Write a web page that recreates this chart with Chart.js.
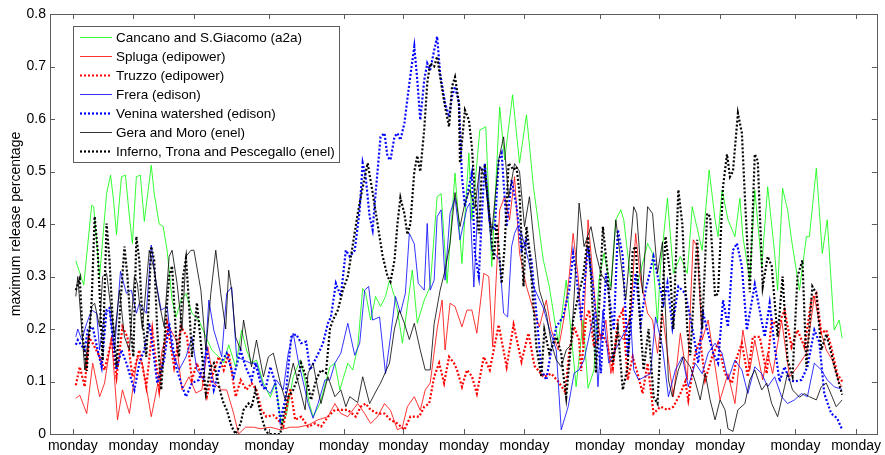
<!DOCTYPE html>
<html>
<head>
<meta charset="utf-8">
<script src="https://cdn.jsdelivr.net/npm/chart.js@4.4.0/dist/chart.umd.min.js"></script>
<style>
  html, body { margin: 0; padding: 0; background: #fff; }
  #wrap { width: 885px; height: 455px; }
</style>
</head>
<body>
<div id="wrap"><canvas id="releaseChart" width="885" height="455"></canvas></div>
<script>
// Maximum release percentage per watershed.
// x = sample index along the time axis, y = release fraction.

const mondayTicks = [-2, 59, 120, 196, 271, 331, 392, 453, 529, 589, 650, 726, 787];
const yTicks = [0, 0.1, 0.2, 0.3, 0.4, 0.5, 0.6, 0.7, 0.8];

const seriesLabels = [
    'Cancano and S.Giacomo (a2a)',
    'Spluga (edipower)',
    'Truzzo (edipower)',
    'Frera (edison)',
    'Venina watershed (edison)',
    'Gera and Moro (enel)',
    'Inferno, Trona and Pescegallo (enel)'
];

const cancano = [[1,.33],[9,.284],[17,.436],[19,.433],[25,.30],[32,.458],[36,.493],[39,.446],[42,.38],[47,.49],[51,.493],[55,.414],[58,.363],[62,.49],[66,.493],[70,.405],[77,.512],[80,.458],[85,.40],[89,.395],[93,.35],[98,.255],[102,.223],[107,.255],[112,.268],[118,.23],[125,.217],[132,.185],[138,.16],[145,.147],[150,.135],[155,.17],[162,.128],[168,.198],[173,.16],[178,.135],[183,.141],[190,.097],[197,.07],[202,.097],[208,.02],[213,.035],[220,.109],[227,.141],[232,.1],[236,.06],[240,.033],[247,.058],[253,.1],[257,.128],[262,.135],[267,.084],[275,.135],[280,.122],[285,.166],[290,.277],[293,.268],[298,.217],[303,.262],[308,.243],[313,.262],[317,.293],[322,.262],[325,.236],[330,.173],[335,.243],[340,.312],[345,.211],[352,.255],[358,.281],[365,.452],[369,.458],[375,.287],[383,.497],[390,.325],[397,.535],[400,.408],[408,.579],[414,.585],[420,.319],[428,.623],[433,.522],[441,.646],[448,.516],[455,.608],[462,.471],[472,.331],[478,.281],[487,.173],[495,.293],[505,.09],[512,.217],[517,.087],[523,.122],[528,.293],[533,.344],[540,.281],[545,.408],[550,.427],[553,.408],[560,.293],[567,.287],[577,.363],[582,.344],[587,.211],[590,.319],[597,.449],[603,.306],[610,.338],[617,.306],[622,.433],[625,.408],[632,.35],[639,.503],[645,.408],[648,.376],[652,.465],[658,.408],[665,.376],[670,.449],[673,.376],[680,.293],[685,.465],[692,.319],[698,.471],[705,.344],[708,.274],[713,.468],[718,.427],[722,.37],[730,.274],[737,.376],[740,.376],[747,.506],[753,.344],[758,.408],[765,.198],[770,.217],[773,.183]];

const spluga = [[1,.068],[5,.074],[12,.039],[18,.135],[25,.071],[30,.097],[37,.185],[43,.027],[48,.084],[55,.039],[63,.147],[68,.135],[77,.033],[83,.09],[88,.16],[95,.204],[102,.179],[108,.084],[115,.109],[122,.078],[128,.084],[134,.166],[140,.097],[148,.084],[153,.084],[160,.039],[165,0],[172,.013],[180,.013],[187,.01],[197,.013],[207,.008],[217,.013],[225,.013],[235,.017],[245,.027],[255,.033],[262,.058],[268,.039],[275,.033],[285,.058],[292,.039],[298,.02],[305,.033],[312,.058],[318,.045],[325,.008],[330,.013],[335,.052],[342,.071],[348,.045],[353,.084],[358,.097],[365,.2],[370,.255],[373,.16],[378,.249],[383,.243],[390,.204],[395,.236],[400,.236],[405,.192],[412,.306],[417,.3],[421,.166],[428,.427],[433,.452],[438,.408],[443,.49],[448,.344],[455,.281],[462,.236],[468,.204],[475,.255],[480,.198],[487,.16],[493,.223],[498,.3],[502,.382],[507,.3],[512,.17],[517,.408],[520,.344],[525,.23],[530,.179],[535,.217],[540,.115],[547,.192],[553,.179],[560,.23],[565,.382],[570,.293],[577,.23],[582,.217],[587,.154],[592,.23],[597,.154],[603,.071],[610,.192],[617,.103],[623,.37],[627,.357],[632,.179],[638,.217],[643,.154],[650,.065],[658,.115],[665,.058],[673,.198],[680,.122],[685,.179],[693,.103],[698,.154],[703,.115],[712,.217],[720,.109],[728,.128],[737,.154],[745,.262],[752,.192],[757,.16],[763,.141],[770,.097],[773,.09]];

const truzzo = [[1,.093],[5,.128],[10,.09],[14,.185],[18,.173],[25,.147],[30,.122],[37,.179],[42,.109],[48,.204],[53,.185],[58,.109],[65,.16],[72,.09],[78,.198],[85,.084],[93,.211],[100,.128],[107,.204],[113,.185],[118,.103],[123,.135],[128,.109],[133,.071],[138,.109],[145,.147],[150,.122],[155,.154],[162,.071],[167,.103],[173,.084],[178,.097],[183,.084],[188,.046],[193,.033],[200,.036],[205,.027],[210,.014],[217,.087],[222,.027],[228,.033],[235,.014],[242,.02],[248,.014],[255,.033],[262,.046],[268,.046],[275,.046],[283,.033],[288,.052],[293,.058],[298,.046],[305,.039],[312,.039],[318,.027],[325,.02],[332,.008],[338,.033],[347,.033],[352,.052],[357,.058],[362,.109],[367,.135],[372,.097],[377,.147],[382,.135],[385,.122],[390,.09],[395,.122],[400,.11],[405,.077],[412,.147],[418,.122],[427,.208],[435,.128],[442,.208],[450,.138],[457,.192],[463,.13],[472,.109],[480,.115],[487,.1],[494,.08],[498,.154],[503,.204],[508,.179],[510,.12],[515,.22],[518,.236],[523,.166],[530,.192],[535,.179],[542,.125],[547,.217],[552,.236],[557,.103],[562,.147],[567,.115],[572,.077],[577,.135],[583,.039],[590,.052],[597,.046],[603,.052],[610,.077],[615,.1],[618,.065],[625,.154],[630,.179],[635,.103],[642,.147],[648,.173],[655,.115],[662,.097],[667,.147],[672,.173],[678,.109],[683,.185],[690,.185],[697,.115],[702,.217],[708,.204],[715,.236],[722,.166],[728,.198],[735,.166],[742,.255],[747,.268],[752,.192],[757,.198],[762,.166],[768,.115],[773,.1]];

const frera = [[1,.185],[3,.2],[7,.179],[12,.211],[17,.236],[22,.23],[25,.16],[30,.23],[35,.236],[40,.16],[46,.31],[52,.268],[57,.274],[62,.23],[65,.249],[72,.23],[77,.36],[82,.287],[87,.236],[93,.243],[98,.16],[105,.122],[112,.147],[118,.185],[123,.122],[130,.103],[135,.255],[140,.198],[148,.147],[153,.268],[158,.28],[163,.147],[170,.141],[177,.135],[183,.135],[190,.09],[197,.077],[203,.103],[210,.084],[215,.154],[220,.192],[225,.14],[230,.1],[235,.058],[240,.03],[245,.058],[252,.103],[257,.103],[262,.135],[268,.154],[275,.211],[282,.15],[287,.173],[292,.274],[296,.281],[300,.217],[307,.223],[313,.115],[318,.185],[323,.262],[328,.23],[333,.268],[337,.382],[342,.362],[346,.287],[352,.274],[355,.401],[358,.274],[362,.293],[365,.414],[369,.427],[373,.293],[378,.42],[383,.45],[388,.37],[395,.43],[398,.44],[402,.28],[408,.51],[413,.5],[420,.35],[428,.331],[432,.23],[436,.223],[440,.357],[443,.382],[446,.395],[450,.382],[457,.331],[462,.281],[472,.24],[478,.2],[485,.16],[490,.008],[497,.052],[503,.116],[508,.122],[513,.141],[518,.185],[523,.23],[527,.09],[532,.236],[538,.135],[548,.173],[560,.217],[563,.122],[568,.103],[580,.115],[585,.223],[592,.166],[598,.071],[605,.122],[612,.147],[618,.09],[625,.135],[632,.115],[638,.154],[645,.173],[652,.154],[658,.103],[665,.141],[672,.122],[678,.077],[685,.128],[692,.115],[698,.09],[705,.109],[712,.071],[718,.058],[725,.065],[732,.077],[738,.071],[745,.135],[752,.122],[758,.103],[765,.09],[773,.085]];

const venina = [[1,.17],[3,.179],[10,.16],[13,.198],[18,.204],[23,.16],[27,.128],[32,.236],[35,.24],[38,.185],[42,.122],[47,.16],[52,.135],[60,.084],[65,.135],[70,.16],[75,.211],[78,.173],[83,.097],[90,.141],[95,.211],[102,.128],[107,.097],[112,.071],[118,.097],[125,.103],[133,.16],[140,.084],[147,.135],[153,.154],[160,.109],[167,.16],[172,.128],[178,.103],[182,.135],[187,.097],[192,.084],[197,.128],[202,.097],[207,.027],[212,.065],[218,.185],[223,.19],[228,.173],[233,.176],[237,.122],[242,.141],[247,.16],[250,.173],[255,.211],[258,.223],[263,.287],[268,.262],[273,.35],[277,.338],[282,.35],[287,.427],[290,.516],[293,.49],[297,.414],[300,.389],[303,.458],[308,.566],[312,.573],[315,.528],[318,.522],[322,.566],[325,.573],[328,.56],[332,.592],[337,.668],[342,.738],[345,.674],[348,.598],[352,.674],[355,.706],[358,.693],[362,.731],[365,.757],[368,.687],[373,.63],[377,.604],[380,.643],[383,.662],[387,.63],[390,.49],[393,.433],[397,.471],[400,.497],[403,.344],[407,.3],[410,.414],[413,.516],[418,.401],[423,.389],[427,.522],[430,.535],[435,.395],[440,.484],[445,.433],[450,.35],[455,.37],[460,.331],[465,.23],[470,.122],[475,.103],[480,.16],[485,.204],[492,.224],[498,.274],[502,.344],[505,.306],[510,.217],[517,.357],[522,.281],[527,.179],[530,.116],[535,.306],[543,.198],[547,.389],[552,.338],[557,.147],[565,.306],[570,.211],[575,.274],[583,.338],[588,.293],[593,.249],[597,.287],[602,.204],[608,.281],[615,.268],[623,.192],[628,.135],[633,.23],[643,.154],[648,.135],[653,.255],[658,.204],[663,.35],[667,.363],[672,.319],[677,.198],[685,.285],[695,.185],[700,.249],[705,.166],[710,.1],[715,.128],[720,.103],[725,.1],[732,.103],[738,.128],[745,.198],[750,.175],[755,.077],[762,.039],[768,.03],[773,.008]];

const gera = [[1,.262],[3,.3],[10,.122],[17,.243],[20,.249],[25,.204],[28,.3],[32,.306],[40,.185],[45,.274],[50,.185],[55,.16],[60,.3],[63,.287],[68,.2],[75,.35],[80,.312],[85,.25],[90,.204],[95,.338],[98,.35],[103,.287],[108,.198],[112,.338],[117,.35],[120,.35],[127,.274],[132,.16],[137,.268],[142,.35],[147,.268],[152,.2],[155,.312],[158,.274],[162,.185],[167,.16],[170,.217],[178,.128],[183,.179],[190,.109],[195,.147],[200,.154],[207,.097],[212,.065],[220,.135],[227,.084],[232,.046],[235,.116],[240,.135],[245,.084],[248,.058],[255,.109],[262,.071],[268,.084],[273,.052],[277,.071],[285,.06],[290,.109],[297,.058],[303,.08],[308,.097],[317,.135],[322,.2],[327,.236],[332,.211],[337,.18],[342,.211],[348,.16],[353,.122],[358,.122],[362,.21],[368,.274],[373,.312],[378,.363],[383,.46],[388,.395],[393,.44],[398,.465],[403,.43],[408,.509],[413,.49],[420,.382],[427,.522],[432,.566],[437,.45],[443,.515],[448,.5],[453,.395],[458,.452],[463,.357],[468,.274],[475,.23],[480,.173],[485,.141],[490,.128],[495,.16],[500,.17],[503,.262],[508,.44],[513,.357],[520,.395],[525,.344],[530,.306],[540,.274],[545,.408],[550,.33],[555,.255],[563,.433],[566,.42],[572,.268],[577,.433],[582,.42],[587,.306],[592,.366],[598,.103],[602,.071],[608,.122],[613,.147],[620,.128],[625,.1],[630,.065],[635,.116],[640,.065],[645,.027],[650,.065],[655,.046],[658,.01],[663,.005],[668,.046],[675,.058],[680,.103],[685,.122],[692,.084],[697,.097],[702,.058],[708,.033],[715,.09],[718,.116],[723,.084],[730,.07],[735,.077],[740,.071],[747,.065],[752,.09],[757,.097],[762,.075],[767,.052],[773,.065]];

const inferno = [[1,.274],[5,.296],[8,.185],[12,.12],[17,.255],[20,.414],[23,.35],[25,.268],[28,.14],[32,.401],[35,.33],[38,.223],[42,.128],[46,.25],[50,.357],[53,.3],[57,.185],[59,.147],[62,.376],[65,.33],[68,.22],[72,.147],[77,.357],[80,.33],[83,.2],[87,.084],[91,.2],[95,.30],[98,.32],[102,.185],[105,.147],[109,.3],[112,.335],[115,.25],[118,.147],[123,.25],[127,.173],[132,.078],[137,.128],[140,.135],[147,.077],[150,.058],[153,.046],[158,.014],[162,0],[167,.02],[170,.046],[175,.058],[178,.05],[182,.084],[187,.04],[192,.008],[195,0],[207,0],[210,.033],[215,.071],[220,.084],[225,.109],[228,.135],[233,.109],[238,.065],[243,.103],[248,.122],[253,.116],[257,.2],[260,.217],[265,.236],[270,.274],[275,.3],[280,.36],[285,.42],[290,.47],[295,.516],[300,.46],[305,.4],[310,.34],[315,.3],[318,.29],[322,.33],[325,.4],[328,.45],[332,.42],[335,.38],[338,.4],[342,.5],[345,.53],[348,.5],[352,.58],[355,.668],[358,.706],[362,.7],[365,.719],[368,.68],[373,.623],[377,.585],[380,.662],[383,.68],[387,.63],[388,.516],[393,.617],[397,.598],[400,.547],[403,.458],[407,.382],[410,.503],[413,.509],[418,.408],[422,.331],[425,.4],[430,.287],[433,.357],[437,.516],[442,.503],[445,.509],[448,.458],[452,.281],[455,.395],[458,.35],[465,.166],[470,.109],[473,.198],[478,.154],[485,.185],[490,.154],[492,.116],[495,.07],[502,.217],[507,.262],[512,.3],[517,.376],[520,.3],[525,.116],[532,.395],[537,.3],[542,.135],[547,.2],[552,.084],[557,.128],[562,.35],[565,.357],[570,.2],[573,.122],[578,.2],[583,.071],[587,.058],[595,.376],[600,.3],[603,.2],[608,.465],[612,.4],[617,.198],[620,.15],[627,.37],[632,.2],[637,.42],[640,.414],[645,.262],[648,.268],[653,.471],[657,.533],[660,.49],[663,.5],[668,.611],[672,.573],[675,.452],[680,.27],[685,.533],[688,.52],[693,.281],[698,.338],[702,.32],[708,.185],[713,.3],[718,.141],[723,.11],[728,.3],[733,.331],[737,.128],[743,.281],[747,.268],[752,.16],[757,.19],[762,.154],[767,.116],[773,.075]];

const seriesData = [cancano, spluga, truzzo, frera, venina, gera, inferno];
const seriesColors = ['#00ff00', '#ff0000', '#ff0000', '#0000ff', '#0000ff', '#000000', '#000000'];
const seriesDotted = [false, false, true, false, true, false, true];

const FONT = '"Liberation Sans", Arial, sans-serif';
const AXIS_COLOR = '#5c5c5c';

// matlab-style frame: box all round, ticks pointing inwards
const axesFrame = {
    id: 'axesFrame',
    afterDatasetsDraw(chart) {
        const ctx = chart.ctx;
        const a = chart.chartArea;
        const xs = chart.scales.x, ys = chart.scales.y;
        const tick = 5;
        ctx.save();
        ctx.strokeStyle = AXIS_COLOR;
        ctx.lineWidth = 1;
        ctx.setLineDash([]);
        ctx.beginPath();
        mondayTicks.forEach(v => {
            const px = Math.round(xs.getPixelForValue(v)) + 0.5;
            ctx.moveTo(px, a.bottom); ctx.lineTo(px, a.bottom - tick);
            ctx.moveTo(px, a.top); ctx.lineTo(px, a.top + tick);
        });
        yTicks.forEach(v => {
            const py = Math.round(ys.getPixelForValue(v)) + 0.5;
            ctx.moveTo(a.left, py); ctx.lineTo(a.left + tick, py);
            ctx.moveTo(a.right, py); ctx.lineTo(a.right - tick, py);
        });
        ctx.stroke();
        ctx.strokeRect(Math.round(a.left) + 0.5, Math.round(a.top) + 0.5,
            Math.round(a.right - a.left), Math.round(a.bottom - a.top));
        ctx.restore();
    }
};

// legend drawn inside the plot, upper left corner
const insideLegend = {
    id: 'insideLegend',
    afterDraw(chart) {
        const ctx = chart.ctx;
        const a = chart.chartArea;
        const sets = chart.data.datasets;
        const x0 = Math.round(a.left) + 23, y0 = Math.round(a.top) + 12;
        const rowH = 19, w = 266, h = rowH * sets.length + 3;
        ctx.save();
        ctx.fillStyle = '#ffffff';
        ctx.fillRect(x0, y0, w, h);
        ctx.strokeStyle = AXIS_COLOR;
        ctx.lineWidth = 1;
        ctx.strokeRect(x0 + 0.5, y0 + 0.5, w, h);
        ctx.font = '13.5px ' + FONT;
        ctx.textBaseline = 'middle';
        sets.forEach((ds, i) => {
            const y = y0 + 11.5 + i * rowH;
            ctx.beginPath();
            ctx.setLineDash(ds.borderDash || []);
            ctx.lineWidth = ds.borderWidth;
            ctx.strokeStyle = ds.borderColor;
            ctx.moveTo(x0 + 7, y);
            ctx.lineTo(x0 + 39, y);
            ctx.stroke();
            ctx.setLineDash([]);
            ctx.fillStyle = '#000';
            ctx.fillText(ds.label, x0 + 43, y + 0.5);
        });
        ctx.restore();
    }
};

const datasets = seriesData.map((pts, i) => ({
    label: seriesLabels[i],
    data: pts.map(p => ({ x: p[0], y: p[1] })),
    borderColor: seriesColors[i],
    borderWidth: seriesDotted[i] ? 2.2 : 0.8,
    borderDash: seriesDotted[i] ? [2, 2] : [],
    borderCapStyle: 'butt',
    pointRadius: 0,
    tension: 0,
    fill: false,
    order: seriesData.length - i   // later series on top, as in the original
}));

new Chart(document.getElementById('releaseChart'), {
    type: 'line',
    data: { datasets: datasets },
    options: {
        responsive: false,
        animation: false,
        devicePixelRatio: 1,
        layout: { padding: { top: 14, right: 2, left: 0, bottom: 0 } },
        plugins: {
            legend: { display: false },
            tooltip: { enabled: false }
        },
        scales: {
            x: {
                type: 'linear',
                min: -25,
                max: 808,
                grid: { display: false, drawTicks: false },
                border: { display: false },
                afterBuildTicks: scale => { scale.ticks = mondayTicks.map(v => ({ value: v })); },
                afterFit: scale => { scale.height = 21; },
                ticks: {
                    autoSkip: false,
                    maxRotation: 0,
                    padding: 4,
                    color: '#000',
                    font: { family: FONT, size: 14 },
                    callback: () => 'monday'
                }
            },
            y: {
                min: 0,
                max: 0.8,
                grid: { display: false, drawTicks: false },
                border: { display: false },
                afterBuildTicks: scale => { scale.ticks = yTicks.map(v => ({ value: v })); },
                afterFit: scale => { scale.width = 50; },
                ticks: {
                    padding: 4,
                    color: '#000',
                    font: { family: FONT, size: 14 },
                    callback: v => String(+v.toFixed(1))
                },
                title: {
                    display: true,
                    text: 'maximum release percentage',
                    color: '#000',
                    font: { family: FONT, size: 14 },
                    padding: { top: 8, bottom: 0 }
                }
            }
        }
    },
    plugins: [axesFrame, insideLegend]
});
</script>
</body>
</html>
